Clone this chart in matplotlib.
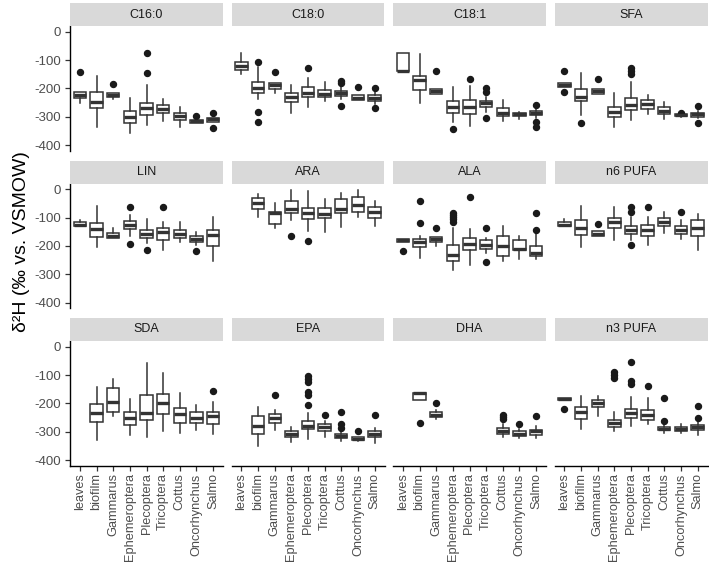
import matplotlib
matplotlib.use("Agg")
import matplotlib.pyplot as plt

plt.rcParams['font.family'] = ['Liberation Sans', 'DejaVu Sans']
plt.rcParams['axes.unicode_minus'] = False

categories = ["leaves", "biofilm", "Gammarus", "Ephemeroptera", "Plecoptera",
              "Tricoptera", "Cottus", "Oncorhynchus", "Salmo"]
panel_names = ["C16:0", "C18:0", "C18:1", "SFA",
               "LIN", "ARA", "ALA", "n6 PUFA",
               "SDA", "EPA", "DHA", "n3 PUFA"]

# one box per category: (lower whisker, q1, median, q3, upper whisker, outliers)
# None = no data for that category
c16_0 = [(-250, -233, -225, -212, -212, [-141]),
         (-337, -270, -247, -212, -156, []),
         (-239, -232, -225, -215, -215, [-185]),
         (-359, -322, -300, -278, -233, []),
         (-330, -295, -268, -250, -187, [-145, -76]),
         (-314, -288, -273, -259, -238, []),
         (-335, -312, -299, -286, -265, []),
         (-321, -321, -315, -311, -311, [-298]),
         (-318, -318, -309, -303, -303, [-285, -341])]
c18_0 = [(-149, -135, -121, -108, -76, []),
         (-239, -217, -200, -176, -123, [-108, -282, -318]),
         (-217, -202, -189, -180, -180, [-141]),
         (-286, -247, -232, -217, -188, []),
         (-265, -232, -215, -196, -165, [-127]),
         (-244, -229, -219, -206, -179, []),
         (-239, -226, -217, -209, -196, [-174, -182, -262]),
         (-241, -241, -233, -223, -223, [-196]),
         (-255, -244, -235, -223, -213, [-197, -270])]
c18_1 = [(-139, -139, -139, -74, -74, []),
         (-253, -206, -170, -156, -80, []),
         (-219, -219, -209, -202, -202, [-139]),
         (-318, -286, -266, -245, -194, [-342]),
         (-333, -292, -265, -242, -192, [-167]),
         (-282, -267, -253, -244, -229, [-200, -212, -306]),
         (-314, -296, -285, -270, -241, []),
         (-309, -298, -292, -286, -282, []),
         (-306, -294, -286, -279, -270, [-259, -318, -336])]
sfa = [(-196, -196, -189, -182, -182, [-139, -214]),
       (-294, -245, -229, -202, -147, [-321]),
       (-219, -219, -209, -203, -203, [-167]),
       (-337, -300, -282, -265, -215, []),
       (-312, -276, -260, -235, -176, [-129, -139, -149]),
       (-292, -274, -256, -241, -223, []),
       (-309, -292, -280, -267, -247, []),
       (-300, -299, -295, -292, -292, [-287]),
       (-306, -300, -292, -285, -278, [-262, -321])]
lin = [(-131, -131, -125, -116, -108, []),
       (-204, -168, -140, -119, -59, []),
       (-173, -173, -163, -154, -135, []),
       (-164, -140, -125, -111, -90, [-63, -192]),
       (-190, -172, -157, -143, -105, [-213]),
       (-213, -178, -149, -137, -114, [-63]),
       (-187, -172, -157, -145, -116, []),
       (-196, -186, -175, -164, -151, [-219]),
       (-252, -201, -160, -143, -98, [])]
ara = [None,
       (-98, -69, -49, -32, -18, []),
       (-137, -122, -82, -79, -49, []),
       (-108, -82, -70, -41, -2, [-164]),
       (-146, -104, -84, -67, -6, [-181]),
       (-152, -102, -88, -67, -34, []),
       (-133, -84, -70, -35, -14, []),
       (-98, -79, -55, -26, -2, []),
       (-128, -102, -81, -61, -40, [])]
ala = [(-185, -185, -180, -175, -175, [-219]),
       (-242, -204, -187, -175, -164, [-40, -119]),
       (-199, -185, -175, -168, -168, [-135]),
       (-283, -254, -231, -198, -137, [-82, -90, -98, -106, -114]),
       (-267, -213, -192, -173, -140, [-28]),
       (-225, -210, -195, -180, -172, [-137, -256]),
       (-252, -236, -201, -166, -128, []),
       (-245, -215, -210, -180, -164, []),
       (-245, -234, -225, -199, -157, [-82, -144])]
n6_pufa = [(-131, -131, -125, -114, -105, []),
           (-204, -160, -137, -110, -59, []),
           (-164, -164, -157, -146, -146, [-123]),
           (-178, -137, -117, -102, -63, []),
           (-178, -157, -143, -128, -96, [-61, -79, -195]),
           (-195, -164, -145, -125, -96, [-63]),
           (-154, -131, -116, -103, -81, []),
           (-175, -157, -143, -129, -108, [-79]),
           (-213, -166, -135, -108, -88, [])]
sda = [None,
       (-329, -266, -235, -202, -141, []),
       (-243, -232, -196, -147, -115, []),
       (-313, -276, -250, -229, -185, []),
       (-317, -258, -235, -170, -58, []),
       (-296, -237, -199, -167, -94, []),
       (-305, -270, -238, -217, -165, []),
       (-293, -268, -250, -232, -205, []),
       (-307, -273, -244, -229, -196, [-156])]
epa = [None,
       (-349, -308, -278, -246, -211, []),
       (-293, -268, -250, -238, -223, [-170]),
       (-337, -320, -308, -299, -282, []),
       (-325, -291, -279, -261, -234, [-103, -114, -123, -161, -170, -205]),
       (-319, -296, -284, -272, -262, [-240]),
       (-331, -323, -315, -307, -297, [-229, -271, -287]),
       (-331, -329, -324, -318, -318, [-299]),
       (-338, -317, -308, -299, -287, [-240])]
dha = [None,
       (-188, -188, -165, -162, -162, [-270]),
       (-255, -249, -241, -232, -225, [-199]),
       None,
       None,
       None,
       (-317, -307, -297, -287, -273, [-241, -248, -255]),
       (-323, -314, -307, -299, -290, [-272]),
       (-323, -310, -299, -293, -280, [-244])]
n3_pufa = [(-188, -188, -184, -180, -180, [-220]),
           (-291, -256, -231, -211, -174, []),
           (-243, -213, -199, -188, -174, []),
           (-297, -282, -270, -258, -232, [-90, -100, -109]),
           (-278, -252, -235, -220, -176, [-53, -121, -130]),
           (-273, -258, -241, -225, -182, [-137]),
           (-303, -294, -291, -283, -272, [-182, -262]),
           (-303, -299, -291, -283, -272, []),
           (-311, -294, -284, -276, -266, [-208, -250])]

panel_data = [c16_0, c18_0, c18_1, sfa, lin, ara, ala, n6_pufa,
              sda, epa, dha, n3_pufa]

W, H = 709, 566
fig = plt.figure(figsize=(W / 100, H / 100), dpi=100)

col_left = [70, 231.5, 393, 554.5]
row_top = [26, 183.6, 341]
pw, ph, sh = 153, 124.8, 23

dark = '#333333'
for i, (name, data) in enumerate(zip(panel_names, panel_data)):
    r, c = divmod(i, 4)
    x0 = col_left[c] / W
    y0 = 1 - (row_top[r] + ph) / H
    ax = fig.add_axes([x0, y0, pw / W, ph / H])
    sax = fig.add_axes([x0, 1 - row_top[r] / H, pw / W, sh / H])
    sax.set_facecolor('#D9D9D9')
    sax.set_xticks([])
    sax.set_yticks([])
    for s in sax.spines.values():
        s.set_visible(False)
    sax.text(0.5, 0.5, name, ha='center', va='center', fontsize=9,
             color='#1A1A1A', transform=sax.transAxes)

    stats, pos = [], []
    for k, b in enumerate(data):
        if b is None:
            continue
        lo, q1, med, q3, hi, fl = b
        stats.append(dict(whislo=lo, q1=q1, med=med, q3=q3, whishi=hi, fliers=fl))
        pos.append(k + 1)
    ax.bxp(stats, positions=pos, widths=0.75, patch_artist=True, showcaps=False,
           boxprops=dict(facecolor='white', edgecolor=dark, linewidth=1.1),
           medianprops=dict(color=dark, linewidth=2.4),
           whiskerprops=dict(color=dark, linewidth=1.1),
           flierprops=dict(marker='o', markerfacecolor='#1A1A1A',
                           markeredgecolor='#1A1A1A', markersize=4.3,
                           linestyle='none'))

    ax.set_xlim(0.4, 9.6)
    ax.set_ylim(-420, 20)
    ax.spines['top'].set_visible(False)
    ax.spines['right'].set_visible(False)
    ax.set_yticks([-400, -300, -200, -100, 0])
    ax.set_xticks(range(1, 10))
    ax.tick_params(colors=dark, labelcolor='#4D4D4D', labelsize=9.5,
                   length=3.5, width=0.9, pad=3)
    ax.tick_params(axis='x', labelsize=9.2, pad=2)
    if c == 0:
        ax.spines['left'].set_linewidth(1.0)
    else:
        ax.spines['left'].set_visible(False)
        ax.tick_params(axis='y', left=False, labelleft=False)
    if r == 2:
        ax.set_xticklabels(categories, rotation=90)
        ax.spines['bottom'].set_linewidth(1.0)
    else:
        ax.spines['bottom'].set_visible(False)
        ax.tick_params(axis='x', bottom=False, labelbottom=False)

fig.text(22 / W, 1 - 242 / H, 'δ²H (‰ vs. VSMOW)', rotation=90,
         ha='center', va='center', fontsize=14)

plt.savefig('out.png', dpi=100)
